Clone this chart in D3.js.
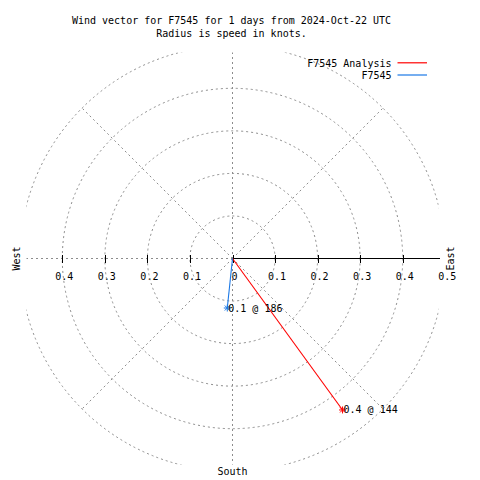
<!DOCTYPE html>
<html>
<head>
<meta charset="utf-8">
<script src="https://cdn.jsdelivr.net/npm/d3@7"></script>
<style>
  html, body { margin: 0; padding: 0; background: #fff; }
  text { font-family: "DejaVu Sans Mono", "Liberation Mono", monospace; font-size: 10px; fill: #000; }
</style>
</head>
<body>
<svg id="chart" width="480" height="480"></svg>
<script>
// ---- data ----
const titleLines = ["Wind vector for F7545 for 1 days from 2024-Oct-22 UTC", "Radius is speed in knots."];
const seriesNames = ["F7545 Analysis", "F7545"];
const seriesColors = ["#ff0000", "#1a78e6"];
const speeds = [0.44, 0.117];          // knots
const directions = [144, 186];         // degrees (compass)
const pointLabels = ["0.4 @ 144", "0.1 @ 186"];
const ringValues = [0.1, 0.2, 0.3, 0.4, 0.5];
const eastTicks = [0, 0.1, 0.2, 0.3, 0.4, 0.5];
const eastTickLabels = ["0", "0.1", "0.2", "0.3", "0.4", "0.5"];
const westTicks = [0.1, 0.2, 0.3, 0.4];
const westTickLabels = ["0.1", "0.2", "0.3", "0.4"];
const spokeAngles = [0, 45, 90, 135, 180, 225, 270, 315];
const compassNames = ["West", "East", "South"];

// ---- layout ----
const svg = d3.select("#chart");
const cx = 232.5, cy = 258.5;
const half = 206;                       // plot box half size (px)
const r = d3.scaleLinear().domain([0, 0.5]).range([0, 212.75]);
const px = (s, b) => cx + r(s) * Math.sin(b * Math.PI / 180);
const py = (s, b) => cy - r(s) * Math.cos(b * Math.PI / 180);

svg.append("defs").append("clipPath").attr("id", "box")
  .append("rect").attr("x", cx - half).attr("y", cy - half)
  .attr("width", 2 * half).attr("height", 2 * half);

// title
svg.append("text").attr("x", 231.5).attr("y", 24).attr("text-anchor", "middle").text(titleLines[0]);
svg.append("text").attr("x", 231.5).attr("y", 36.5).attr("text-anchor", "middle").text(titleLines[1]);

// tick labels
svg.selectAll("text.et").data(eastTicks).enter().append("text")
  .attr("class", "et").attr("x", d => px(d, 90) + 2).attr("y", 280)
  .attr("text-anchor", "middle").text((d, i) => eastTickLabels[i]);
svg.selectAll("text.wt").data(westTicks).enter().append("text")
  .attr("class", "wt").attr("x", d => px(d, 270) + 2).attr("y", 280)
  .attr("text-anchor", "middle").text((d, i) => westTickLabels[i]);

// grid
const grid = svg.append("g").attr("clip-path", "url(#box)")
  .attr("fill", "none").attr("stroke", "#8c8c8c").attr("stroke-width", 1)
  .attr("stroke-dasharray", "2,3");
grid.selectAll("circle").data(ringValues).enter().append("circle")
  .attr("cx", cx).attr("cy", cy).attr("r", d => r(d));
grid.selectAll("line").data(spokeAngles).enter().append("line")
  .attr("x1", cx).attr("y1", cy)
  .attr("x2", d => px(0.5, d)).attr("y2", d => py(0.5, d))
  .attr("shape-rendering", d => d % 90 === 0 ? "crispEdges" : null);

// east axis line + ticks
svg.append("line").attr("x1", cx).attr("y1", cy).attr("x2", cx + half + 1).attr("y2", cy)
  .attr("stroke", "#000").attr("shape-rendering", "crispEdges");
svg.selectAll("line.tk").data(eastTicks.slice(0, 5).concat(westTicks.map(d => -d))).enter().append("line")
  .attr("class", "tk")
  .attr("x1", d => Math.round(px(Math.abs(d), d < 0 ? 270 : 90)) + 0.5)
  .attr("x2", d => Math.round(px(Math.abs(d), d < 0 ? 270 : 90)) + 0.5)
  .attr("y1", cy - 4).attr("y2", cy + 4)
  .attr("stroke", "#000").attr("shape-rendering", "crispEdges");

// compass labels
svg.append("text").attr("transform", `translate(19.5,${cy}) rotate(-90)`)
  .attr("text-anchor", "middle").text(compassNames[0]);
svg.append("text").attr("transform", `translate(453.5,${cy}) rotate(-90)`)
  .attr("text-anchor", "middle").text(compassNames[1]);
svg.append("text").attr("x", cx).attr("y", 474.5)
  .attr("text-anchor", "middle").text(compassNames[2]);

// vectors
const vec = svg.append("g");
speeds.forEach((s, i) => {
  const x2 = px(s, directions[i]), y2 = py(s, directions[i]);
  vec.append("line").attr("x1", cx).attr("y1", cy).attr("x2", x2).attr("y2", y2)
    .attr("stroke", seriesColors[i]).attr("stroke-width", 1.1);
  const m = vec.append("g").attr("stroke", seriesColors[i]).attr("stroke-width", 1);
  m.append("line").attr("x1", x2 - 3.5).attr("x2", x2 + 3.5).attr("y1", y2).attr("y2", y2);
  m.append("line").attr("x1", x2).attr("x2", x2).attr("y1", y2 - 3.5).attr("y2", y2 + 3.5);
  m.append("line").attr("x1", x2 - 2.5).attr("x2", x2 + 2.5).attr("y1", y2 - 2.5).attr("y2", y2 + 2.5);
  m.append("line").attr("x1", x2 - 2.5).attr("x2", x2 + 2.5).attr("y1", y2 + 2.5).attr("y2", y2 - 2.5);
  vec.append("text").attr("x", x2 + 1).attr("y", y2 + 3.5).text(pointLabels[i]);
});

// legend
seriesNames.forEach((n, i) => {
  const y = 67 + i * 12.2;
  svg.append("text").attr("x", 391.5).attr("y", y).attr("text-anchor", "end").text(n);
  svg.append("line").attr("x1", 397.5).attr("x2", 427).attr("y1", y - 4.2).attr("y2", y - 4.2)
    .attr("stroke", seriesColors[i]).attr("stroke-width", 1.2);
});
</script>
</body>
</html>
